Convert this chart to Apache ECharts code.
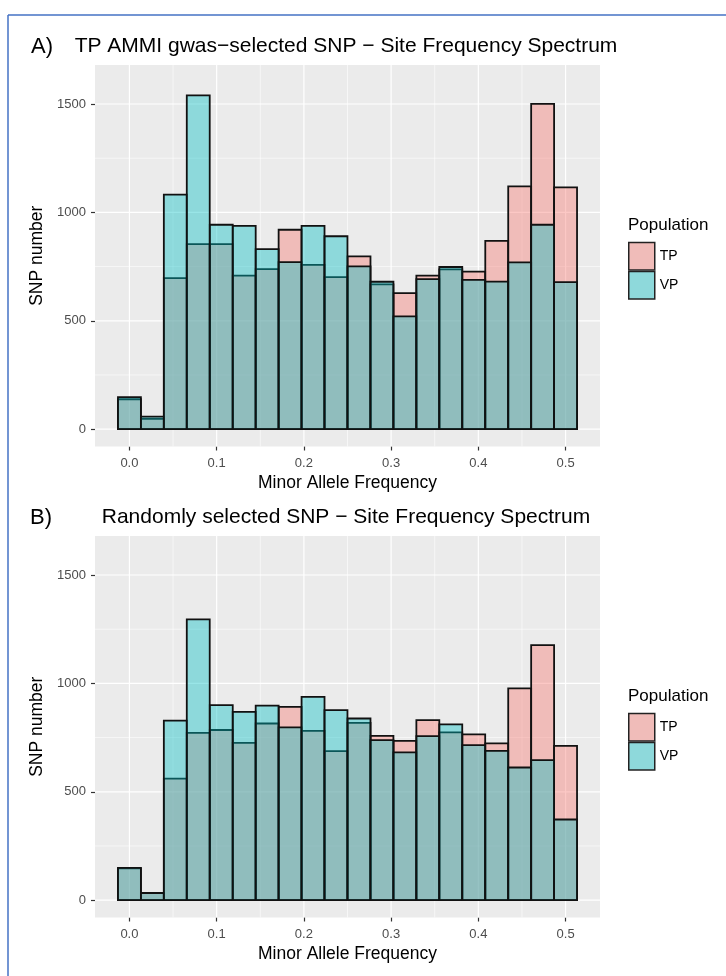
<!DOCTYPE html>
<html>
<head>
<meta charset="utf-8">
<script src="https://cdn.jsdelivr.net/npm/echarts@6/dist/echarts.min.js"></script>
<style>
  html, body { margin: 0; padding: 0; background: #fff; }
  #chart { width: 726px; height: 976px; }
</style>
</head>
<body>
<div id="chart"></div>
<script>
// bin centres of the MAF histogram (20 bins, 0 .. 0.5)
var binCenters = [0.0000, 0.0263, 0.0526, 0.0789, 0.1053, 0.1316, 0.1579, 0.1842, 0.2105, 0.2368,
                  0.2632, 0.2895, 0.3158, 0.3421, 0.3684, 0.3947, 0.4211, 0.4474, 0.4737, 0.5000];
var binWidth = 0.0263;

// A) TP AMMI gwas-selected SNP
var tpA = [138, 47, 697, 854, 854, 708, 738, 920, 758, 701, 797, 668, 628, 708, 737, 727, 869, 1120, 1501, 1115];
var vpA = [148, 58, 1082, 1540, 943, 938, 831, 771, 938, 890, 751, 680, 520, 692, 748, 689, 681, 769, 943, 678];

// B) randomly selected SNP
var tpB = [147, 34, 561, 772, 785, 726, 815, 892, 781, 688, 818, 758, 735, 831, 774, 765, 723, 977, 1177, 712];
var vpB = [149, 32, 828, 1295, 900, 869, 897, 797, 938, 877, 838, 738, 682, 757, 811, 715, 689, 612, 646, 372];

var xBreaks = [0, 0.1, 0.2, 0.3, 0.4, 0.5];
var xMinor = [0.05, 0.15, 0.25, 0.35, 0.45];
var yBreaks = [0, 500, 1000, 1500];
var yMinor = [250, 750, 1250];

var FONT = '"Liberation Sans", Arial, Helvetica, sans-serif';
var tpColor = 'rgba(248,118,109,0.4)';
var vpColor = 'rgba(0,191,196,0.4)';

var chart = echarts.init(document.getElementById('chart'));

function barItem(color) {
  return function (params, api) {
    var c = api.value(0), n = api.value(1);
    var p0 = api.coord([c - binWidth / 2, n]);
    var p1 = api.coord([c + binWidth / 2, 0]);
    return {
      type: 'rect',
      shape: { x: p0[0], y: p0[1], width: p1[0] - p0[0], height: p1[1] - p0[1] },
      style: { fill: color, stroke: '#111', lineWidth: 1.8 }
    };
  };
}

function gridLines(idx, vals, isX, w) {
  return {
    type: 'custom', xAxisIndex: idx, yAxisIndex: idx, silent: true, z: 1,
    data: vals.map(function (v) { return isX ? [v, 0] : [0, v]; }),
    renderItem: function (params, api) {
      var cs = params.coordSys;
      var p = api.coord([api.value(0), api.value(1)]);
      var shape = isX
        ? { x1: p[0], y1: cs.y, x2: p[0], y2: cs.y + cs.height }
        : { x1: cs.x, y1: p[1], x2: cs.x + cs.width, y2: p[1] };
      return { type: 'line', shape: shape, style: { stroke: '#fff', lineWidth: w } };
    }
  };
}

function bars(idx, name, vals, color) {
  return {
    type: 'custom', name: name, xAxisIndex: idx, yAxisIndex: idx, z: 2,
    itemStyle: { color: color },
    data: binCenters.map(function (c, i) { return [c, vals[i]]; }),
    renderItem: barItem(color)
  };
}

function xAx(idx) {
  return {
    gridIndex: idx, type: 'value', min: -0.03947, max: 0.53947,
    axisLine: { show: false, onZero: false }, splitLine: { show: false },
    axisTick: { show: true, customValues: xBreaks, length: 4, lineStyle: { color: '#333', width: 1.2 } },
    axisLabel: { customValues: xBreaks, margin: 10, color: '#4d4d4d', fontSize: 13, fontFamily: FONT,
                 formatter: function (v) { return v.toFixed(1); } },
    name: 'Minor Allele Frequency', nameLocation: 'middle', nameGap: 28,
    nameTextStyle: { fontSize: 17.5, color: '#000', fontFamily: FONT }
  };
}

function yAx(idx) {
  return {
    gridIndex: idx, type: 'value', min: -80, max: 1680,
    axisLine: { show: false, onZero: false }, splitLine: { show: false },
    axisTick: { show: true, customValues: yBreaks, length: 4, lineStyle: { color: '#333', width: 1.2 } },
    axisLabel: { customValues: yBreaks, margin: 9, color: '#4d4d4d', fontSize: 13, fontFamily: FONT,
                 formatter: function (v) { return String(v); } },
    name: 'SNP number', nameLocation: 'middle', nameGap: 34,
    nameTextStyle: { fontSize: 17.5, color: '#000', fontFamily: FONT }
  };
}

function legendFor(top) {
  return {
    left: 628, top: top, padding: 0, orient: 'vertical', itemGap: 0, itemWidth: 26, itemHeight: 27.5,
    selectedMode: false, icon: 'rect',
    textStyle: { fontSize: 14, color: '#000', fontFamily: FONT },
    itemStyle: { borderColor: '#222', borderWidth: 1.5 },
    data: [
      { name: 'TP', itemStyle: { color: '#f0bcb9', borderColor: '#222', borderWidth: 1.5 } },
      { name: 'VP', itemStyle: { color: '#8ed9db', borderColor: '#222', borderWidth: 1.5 } }
    ]
  };
}

function txt(x, y, s, size, align) {
  return {
    type: 'text', x: x, y: y, silent: true,
    style: { text: s, fill: '#000', font: size + 'px ' + FONT, textAlign: align, textVerticalAlign: 'middle' }
  };
}

chart.setOption({
  animation: false,
  backgroundColor: '#fff',
  grid: [
    { left: 95, top: 65, width: 505, height: 381.5, show: true, backgroundColor: '#ebebeb', borderWidth: 0 },
    { left: 95, top: 536, width: 505, height: 381.5, show: true, backgroundColor: '#ebebeb', borderWidth: 0 }
  ],
  xAxis: [xAx(0), xAx(1)],
  yAxis: [yAx(0), yAx(1)],
  legend: [legendFor(241.7), legendFor(712.7)],
  graphic: [
    { type: 'line', silent: true, shape: { x1: 8, y1: 15, x2: 726, y2: 15 }, style: { stroke: '#4472c4', lineWidth: 1.5 } },
    { type: 'line', silent: true, shape: { x1: 8, y1: 15, x2: 8, y2: 976 }, style: { stroke: '#4472c4', lineWidth: 1.5 } },
    txt(31, 47.4, 'A)', 22, 'left'),
    txt(346, 46.7, 'TP AMMI gwas\u2212selected SNP \u2212 Site Frequency Spectrum', 21, 'center'),
    txt(30, 518.4, 'B)', 22, 'left'),
    txt(346, 517.7, 'Randomly selected SNP \u2212 Site Frequency Spectrum', 21, 'center'),
    txt(628, 225, 'Population', 17, 'left'),
    txt(628, 696, 'Population', 17, 'left')
  ],
  series: [
    gridLines(0, xMinor, true, 0.6), gridLines(0, yMinor, false, 0.6),
    gridLines(0, xBreaks, true, 1.2), gridLines(0, yBreaks, false, 1.2),
    gridLines(1, xMinor, true, 0.6), gridLines(1, yMinor, false, 0.6),
    gridLines(1, xBreaks, true, 1.2), gridLines(1, yBreaks, false, 1.2),
    bars(0, 'TP', tpA, tpColor), bars(0, 'VP', vpA, vpColor),
    bars(1, 'TP', tpB, tpColor), bars(1, 'VP', vpB, vpColor)
  ]
});
</script>
</body>
</html>
